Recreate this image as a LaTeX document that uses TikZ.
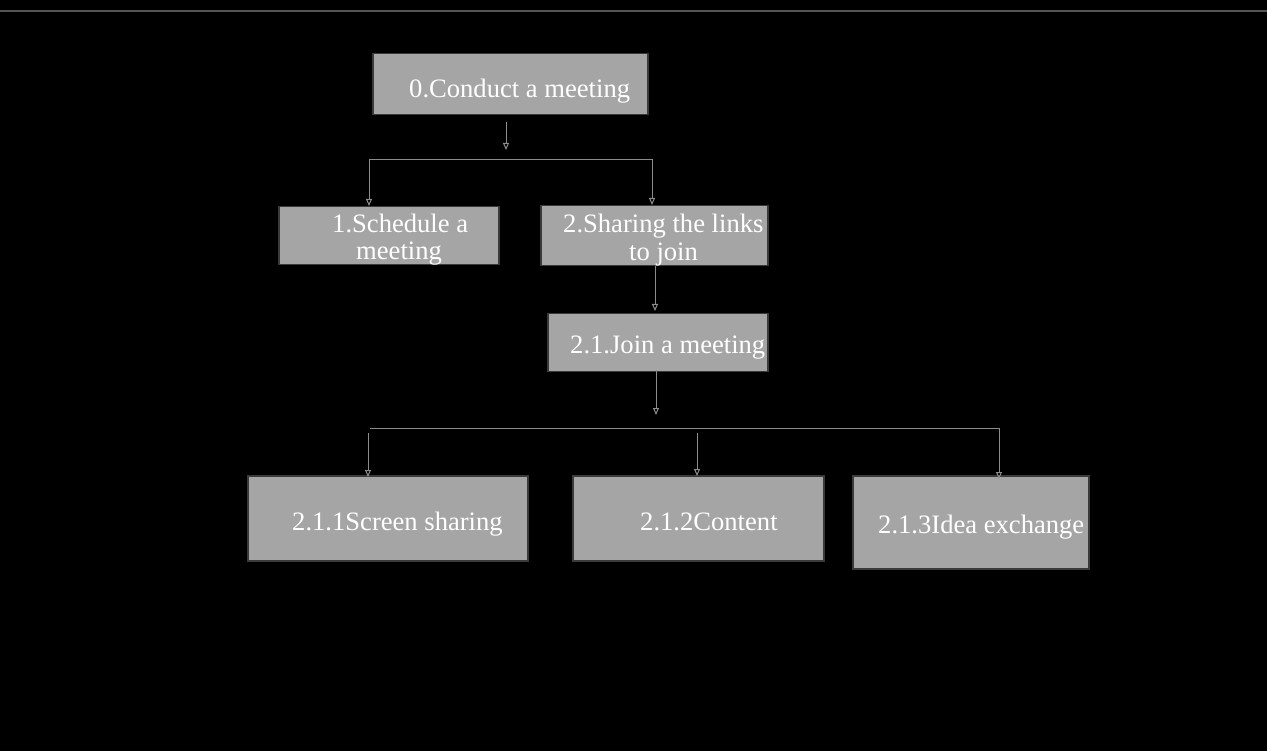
\documentclass[tikz,border=0pt]{standalone}
\usepackage{fontspec}
\setmainfont{Liberation Serif}
\newfontfamily\lserif{Liberation Serif}
\usetikzlibrary{arrows.meta}
\definecolor{boxfill}{HTML}{A5A5A5}
\definecolor{boxline}{HTML}{3A3A3A}
\definecolor{connc}{HTML}{8C8C8C}
\definecolor{topline}{HTML}{555555}
\begin{document}
\begin{tikzpicture}[x=1pt,y=-1pt,
  box/.style={draw=boxline, line width=1.5pt, fill=boxfill, inner sep=0pt, anchor=north west},
  lbl/.style={text=white, font=\lserif\fontsize{26.6}{28}\selectfont, inner sep=0pt, anchor=base west},
  conn/.style={draw=connc, line width=1pt},
  arr/.style={conn, -{Triangle[open, length=7pt, width=6pt]}}]
\useasboundingbox (0,0) rectangle (1267,751);
\fill[black] (-10,-10) rectangle (1277,761);
\draw[topline, line width=1.5pt] (-5,11) -- (1272,11);
% boxes
\node[box, minimum width=275pt, minimum height=61pt] (b0) at (372,53) {};
\node[box, minimum width=220pt, minimum height=58pt] (b1) at (278,206) {};
\node[box, minimum width=227pt, minimum height=60pt] (b2) at (540,205) {};
\node[box, minimum width=220pt, minimum height=58pt] (b21) at (547,313) {};
\node[box, minimum width=280pt, minimum height=85pt] (b211) at (247,475) {};
\node[box, minimum width=251pt, minimum height=85pt] (b212) at (572,475) {};
\node[box, minimum width=236pt, minimum height=93pt] (b213) at (852,475) {};
% labels
\node[lbl] (t0) at (409,98) {0.Conduct a meeting};
\node[lbl] (t1a) at (332,233) {1.Schedule a};
\node[lbl] (t1b) at (356,260) {meeting};
\node[lbl] (t2a) at (563,233) {2.Sharing the links};
\node[lbl] (t2b) at (629,261) {to join};
\node[lbl] (t21) at (570,354) {2.1.Join a meeting};
\node[lbl] (t211) at (292,530) {2.1.1Screen sharing};
\node[lbl] (t212) at (640,530) {2.1.2Content};
\node[lbl] (t213) at (878,533) {2.1.3Idea exchange};
% connectors level 1
\coordinate (c0a) at (506,122);
\coordinate (c0b) at (506,150);
\draw[arr] (c0a) -- (c0b);
\coordinate (h1l) at (369,160);
\coordinate (h1r) at (652,160);
\draw[conn] (h1l) -- ([xshift=1pt]h1r);
\draw[arr] (h1l) -- (h1l |- b1.north);
\draw[arr] (h1r) -- (h1r |- b2.north);
% box 2 to 2.1
\coordinate (c2e) at (655,311);
\draw[arr] (b2.south -| c2e) -- (c2e);
\coordinate (c21e) at (656,415);
\draw[arr] ([yshift=2pt]b21.south -| c21e) -- (c21e);
% level 3
\coordinate (h2l) at (370,428);
\coordinate (h2r) at (999,428);
\draw[conn] (h2l) -- (h2r);
\coordinate (v1a) at (368,433);
\coordinate (v2a) at (697,433);
\draw[arr] (v1a) -- ([yshift=-2pt]v1a |- b211.north);
\draw[arr] (v2a) -- ([yshift=-1pt]v2a |- b212.north);
\draw[arr] (h2r) -- ([yshift=-4pt]h2r |- b213.north);
\end{tikzpicture}
\end{document}
